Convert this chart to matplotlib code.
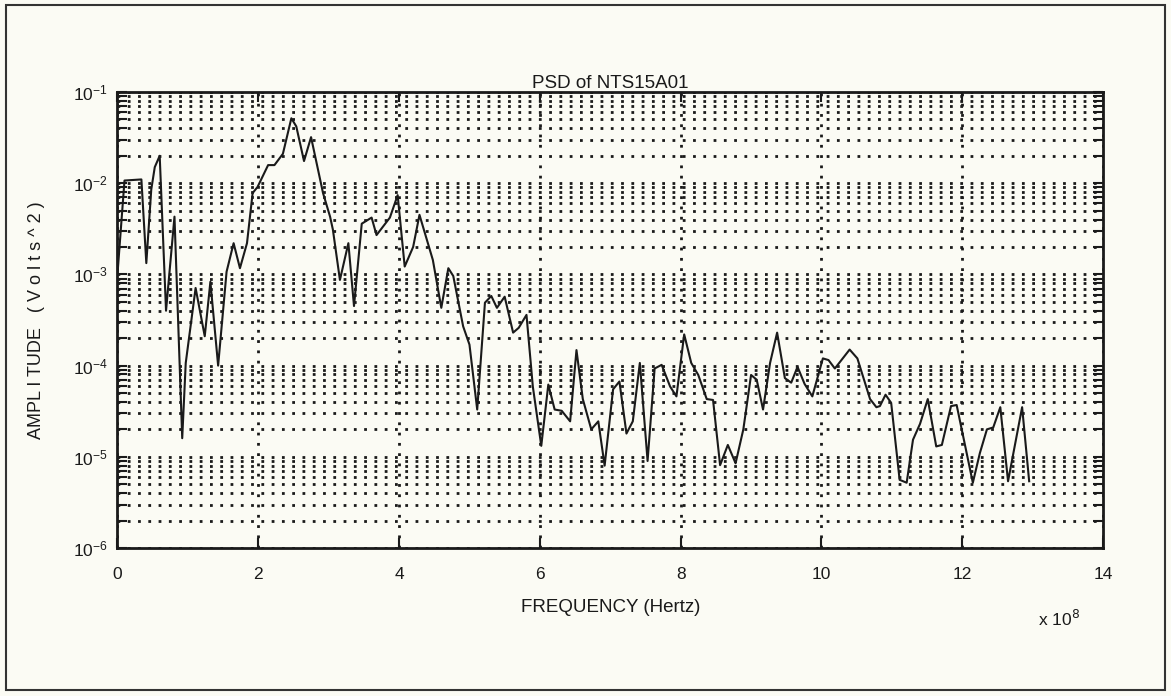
#!/usr/bin/env python3
"""PSD of NTS15A01 - log amplitude vs frequency"""

import matplotlib
matplotlib.use('Agg')
import matplotlib.pyplot as plt
import numpy as np
from matplotlib.ticker import LogLocator, NullFormatter, FixedLocator
from matplotlib.patches import Rectangle

plt.rcParams['font.family'] = ['Liberation Sans', 'DejaVu Sans']

# frequency in units of 1e8 Hz
freq = [0.00, 0.10, 0.34, 0.41, 0.48, 0.53, 0.60, 0.69, 0.81, 0.92,
        0.97, 1.11, 1.24, 1.32, 1.43, 1.55, 1.65, 1.74, 1.84, 1.92,
        1.99, 2.14, 2.23, 2.35, 2.47, 2.54, 2.65, 2.75, 2.92, 3.02,
        3.06, 3.16, 3.28, 3.36, 3.47, 3.61, 3.68, 3.87, 3.98, 4.08,
        4.20, 4.29, 4.48, 4.60, 4.70, 4.77, 4.91, 5.00, 5.11, 5.22,
        5.31, 5.39, 5.50, 5.62, 5.70, 5.81, 5.90, 6.02, 6.12, 6.21,
        6.31, 6.43, 6.52, 6.61, 6.73, 6.83, 6.92, 7.04, 7.13, 7.23,
        7.32, 7.42, 7.53, 7.63, 7.73, 7.85, 7.94, 8.05, 8.15, 8.25,
        8.37, 8.46, 8.56, 8.67, 8.78, 8.89, 9.00, 9.08, 9.17, 9.27,
        9.37, 9.48, 9.57, 9.66, 9.76, 9.87, 10.02, 10.10, 10.19, 10.40,
        10.51, 10.69, 10.78, 10.83, 10.91, 10.99, 11.11, 11.21, 11.30, 11.40,
        11.51, 11.63, 11.71, 11.84, 11.92, 12.15, 12.25, 12.35, 12.44, 12.54,
        12.65, 12.85, 12.95]

# power spectral density (Volts^2)
psd = [1.0e-3, 1.07e-2, 1.1e-2, 1.33e-3, 8.5e-3, 1.5e-2, 2.0e-2, 4.0e-4, 4.3e-3, 1.6e-5,
       1.07e-4, 7.1e-4, 2.1e-4, 8.3e-4, 1.0e-4, 1.07e-3, 2.2e-3, 1.17e-3, 2.2e-3, 7.8e-3,
       9.1e-3, 1.58e-2, 1.58e-2, 2.1e-2, 5.15e-2, 4.2e-2, 1.75e-2, 3.2e-2, 7.8e-3, 4.3e-3,
       3.1e-3, 8.7e-4, 2.2e-3, 4.5e-4, 3.6e-3, 4.2e-3, 2.7e-3, 4.2e-3, 7.4e-3, 1.22e-3,
       2.0e-3, 4.5e-3, 1.44e-3, 4.3e-4, 1.17e-3, 9.6e-4, 2.7e-4, 1.7e-4, 3.3e-5, 4.9e-4,
       5.8e-4, 4.3e-4, 5.7e-4, 2.3e-4, 2.6e-4, 3.6e-4, 5.9e-5, 1.32e-5, 6.2e-5, 3.3e-5,
       3.2e-5, 2.45e-5, 1.48e-4, 4.3e-5, 2.0e-5, 2.45e-5, 8.0e-6, 5.5e-5, 6.7e-5, 1.8e-5,
       2.45e-5, 1.07e-4, 9.0e-6, 9.3e-5, 1.02e-4, 5.9e-5, 4.6e-5, 2.2e-4, 1.07e-4, 7.9e-5,
       4.3e-5, 4.2e-5, 8.1e-6, 1.35e-5, 8.5e-6, 2.0e-5, 7.9e-5, 7.0e-5, 3.3e-5, 1.07e-4,
       2.3e-4, 7.3e-5, 6.5e-5, 9.7e-5, 6.3e-5, 4.6e-5, 1.2e-4, 1.15e-4, 9.3e-5, 1.5e-4,
       1.2e-4, 4.3e-5, 3.5e-5, 3.6e-5, 4.8e-5, 3.9e-5, 5.6e-6, 5.2e-6, 1.54e-5, 2.3e-5,
       4.3e-5, 1.3e-5, 1.35e-5, 3.6e-5, 3.7e-5, 5.2e-6, 1.1e-5, 2.0e-5, 2.1e-5, 3.5e-5,
       5.4e-6, 3.5e-5, 5.4e-6]

xticks = [0, 2, 4, 6, 8, 10, 12, 14]

ink = '#1a1a1a'
paper = '#fbfbf4'

fig = plt.figure(figsize=(11.71, 6.96), dpi=100, facecolor=paper)
ax = fig.add_axes([0.1003, 0.2126, 0.8417, 0.6552])
ax.set_facecolor(paper)

ax.semilogy(freq, psd, color=ink, linewidth=1.5, zorder=3)

ax.set_xlim(0, 14)
ax.set_ylim(1e-6, 1e-1)

ax.xaxis.set_major_locator(FixedLocator(xticks))
ax.yaxis.set_major_locator(LogLocator(base=10, numticks=10))
ax.yaxis.set_minor_locator(LogLocator(base=10, subs=np.arange(2, 10), numticks=20))
ax.yaxis.set_minor_formatter(NullFormatter())

# dotted grid: every y tick (major + minor), major x ticks only
dots = (0, (1, 2.7))
ax.grid(True, which='major', axis='x', color=ink, linestyle=dots, linewidth=2.0)
ax.grid(True, which='both', axis='y', color=ink, linestyle=dots, linewidth=2.0)

ax.tick_params(which='both', direction='in', top=True, right=True,
               color=ink, labelcolor=ink, labelsize=12.5, width=1.5)
ax.tick_params(which='major', length=7)
ax.tick_params(axis='x', pad=14)
ax.tick_params(axis='y', pad=7)
ax.tick_params(which='minor', length=7)

for s in ax.spines.values():
    s.set_color(ink)
    s.set_linewidth(2.0)

ax.set_title('PSD of NTS15A01', fontsize=13.5, color=ink, pad=1)
ax.set_xlabel('FREQUENCY (Hertz)', fontsize=13.5, color=ink, labelpad=12)
ax.set_ylabel('AMPL I TUDE   ( V o l t s ^ 2 )', fontsize=13, color=ink, labelpad=20)

fig.text(0.886, 0.100, r'x 10$^{8}$', fontsize=12.5, color=ink)

# outer frame around the whole figure
fig.patches.append(Rectangle((0.005, 0.008), 0.99, 0.985, transform=fig.transFigure,
                             fill=False, edgecolor='#333333', linewidth=1.5))

fig.savefig('out.png', dpi=100, facecolor=paper)
plt.close(fig)
